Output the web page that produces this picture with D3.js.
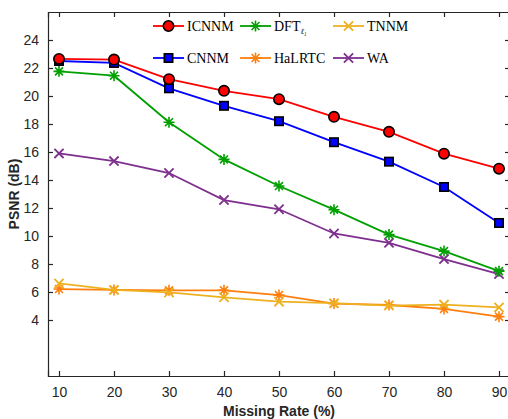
<!DOCTYPE html>
<html>
<head>
<meta charset="utf-8">
<script src="https://cdn.jsdelivr.net/npm/d3@7"></script>
<style>
  html, body { margin: 0; padding: 0; background: #fff; }
</style>
</head>
<body>
<svg id="chart" width="508" height="419"></svg>
<script>
const missingRate = [10, 20, 30, 40, 50, 60, 70, 80, 90];
const icnnm = [22.65, 22.6, 21.2, 20.37, 19.77, 18.51, 17.44, 15.88, 14.81];
const cnnm = [22.5, 22.36, 20.55, 19.3, 18.2, 16.7, 15.31, 13.5, 10.93];
const dft = [21.76, 21.45, 18.13, 15.47, 13.57, 11.88, 10.1, 8.92, 7.49];
const wa = [15.9, 15.35, 14.5, 12.57, 11.91, 10.18, 9.51, 8.35, 7.28];
const halrtc = [6.21, 6.15, 6.12, 6.12, 5.78, 5.17, 5.07, 4.79, 4.24];
const tnnm = [6.61, 6.15, 5.97, 5.62, 5.31, 5.2, 5.03, 5.1, 4.9];
const yTicks = [4, 6, 8, 10, 12, 14, 16, 18, 20, 22, 24];

const svg = d3.select("#chart");
const margin = { top: 12, right: -2, bottom: 43, left: 48 };
const width = 508 - margin.left - margin.right;
const height = 419 - margin.top - margin.bottom;
const axisColor = "#262626";

const x = d3.scaleLinear().domain([8, 92]).range([margin.left, margin.left + width]);
const y = d3.scaleLinear().domain([0, 26]).range([margin.top + height, margin.top]);

// series (drawn so that ICNNM ends on top)
const series = [
  { name: "WA", values: wa, color: "#7E2F8E", marker: "x" },
  { name: "HaLRTC", values: halrtc, color: "#FF7F0E", marker: "star" },
  { name: "TNNM", values: tnnm, color: "#EDB120", marker: "x" },
  { name: "DFT", values: dft, color: "#00A000", marker: "star" },
  { name: "CNNM", values: cnnm, color: "#0000FF", marker: "square" },
  { name: "ICNNM", values: icnnm, color: "#FF0000", marker: "circle" }
];

function drawMarker(g, type, color) {
  if (type === "circle") {
    g.append("circle").attr("r", 5.2).attr("fill", color)
      .attr("stroke", "#000").attr("stroke-width", 1.6);
  } else if (type === "square") {
    g.append("rect").attr("x", -4.2).attr("y", -4.2).attr("width", 8.4).attr("height", 8.4)
      .attr("fill", color).attr("stroke", "#000").attr("stroke-width", 1.6);
  } else if (type === "star") {
    const r = 5.5, d = r * 0.72;
    g.append("path")
      .attr("d", `M${-r},0L${r},0M0,${-r}L0,${r}M${-d},${-d}L${d},${d}M${-d},${d}L${d},${-d}`)
      .attr("stroke", color).attr("stroke-width", 1.6).attr("fill", "none");
  } else if (type === "x") {
    const d = 4.6;
    g.append("path")
      .attr("d", `M${-d},${-d}L${d},${d}M${-d},${d}L${d},${-d}`)
      .attr("stroke", color).attr("stroke-width", 1.8).attr("fill", "none");
  }
}

// axes, box style with inward ticks
const xAxis = d3.axisBottom(x).tickValues(missingRate).tickSize(-5).tickPadding(11);
const yAxis = d3.axisLeft(y).tickValues(yTicks).tickSize(-5).tickPadding(9);

const gx = svg.append("g").attr("transform", `translate(0,${margin.top + height})`).call(xAxis);
const gy = svg.append("g").attr("transform", `translate(${margin.left},0)`).call(yAxis);
const gxTop = svg.append("g").attr("transform", `translate(0,${margin.top})`)
  .call(d3.axisTop(x).tickValues(missingRate).tickSize(-5).tickFormat(""));
const gyRight = svg.append("g").attr("transform", `translate(${margin.left + width},0)`)
  .call(d3.axisRight(y).tickValues(yTicks).tickSize(-5).tickFormat(""));

[gx, gy, gxTop, gyRight].forEach(g => {
  g.select(".domain").attr("stroke", axisColor).attr("stroke-width", 1.2);
  g.selectAll(".tick line").attr("stroke", axisColor).attr("stroke-width", 1.2);
  g.selectAll("text").attr("fill", axisColor)
    .style("font-family", "'Liberation Sans', Arial, sans-serif").style("font-size", "14px");
});

// lines and markers
const line = d3.line().x((d, i) => x(missingRate[i])).y(d => y(d));
series.forEach(s => {
  svg.append("path").datum(s.values)
    .attr("d", line).attr("fill", "none")
    .attr("stroke", s.color).attr("stroke-width", 1.8);
  s.values.forEach((v, i) => {
    const g = svg.append("g").attr("transform", `translate(${x(missingRate[i])},${y(v)})`);
    drawMarker(g, s.marker, s.color);
  });
});

// axis labels
svg.append("text")
  .attr("x", (margin.left + 510) / 2).attr("y", 412)
  .attr("text-anchor", "middle").attr("dominant-baseline", "middle")
  .attr("fill", axisColor)
  .style("font-family", "'Liberation Sans', Arial, sans-serif")
  .style("font-size", "14px").style("font-weight", "bold")
  .text("Missing Rate (%)");

svg.append("text")
  .attr("transform", `translate(15,${margin.top + height / 2}) rotate(-90)`)
  .attr("text-anchor", "middle").attr("dominant-baseline", "middle")
  .attr("fill", axisColor)
  .style("font-family", "'Liberation Sans', Arial, sans-serif")
  .style("font-size", "14px").style("font-weight", "bold")
  .text("PSNR (dB)");

// legend
const legendItems = [
  { label: "ICNNM", color: "#FF0000", marker: "circle", lx: 153, ly: 26 },
  { label: "DFT", sub: "\u2113\u2081", color: "#00A000", marker: "star", lx: 240, ly: 26 },
  { label: "TNNM", color: "#EDB120", marker: "x", lx: 333, ly: 26 },
  { label: "CNNM", color: "#0000FF", marker: "square", lx: 153, ly: 58 },
  { label: "HaLRTC", color: "#FF7F0E", marker: "star", lx: 240, ly: 58 },
  { label: "WA", color: "#7E2F8E", marker: "x", lx: 333, ly: 58 }
];
const legend = svg.append("g");
legendItems.forEach(it => {
  const g = legend.append("g").attr("transform", `translate(${it.lx},${it.ly})`);
  g.append("line").attr("x1", 0).attr("x2", 31).attr("y1", 0).attr("y2", 0)
    .attr("stroke", it.color).attr("stroke-width", 1.8);
  const m = g.append("g").attr("transform", "translate(15.5,0)");
  drawMarker(m, it.marker, it.color);
  const t = g.append("text").attr("x", 34).attr("y", 4.6)
    .attr("fill", "#000")
    .style("font-family", "'Liberation Serif', 'DejaVu Serif', serif")
    .style("font-size", "14px");
  t.append("tspan").text(it.label);
  if (it.sub) {
    t.append("tspan").attr("dy", 3).style("font-size", "8px").style("font-style", "italic").text(it.sub);
  }
});
</script>
</body>
</html>
